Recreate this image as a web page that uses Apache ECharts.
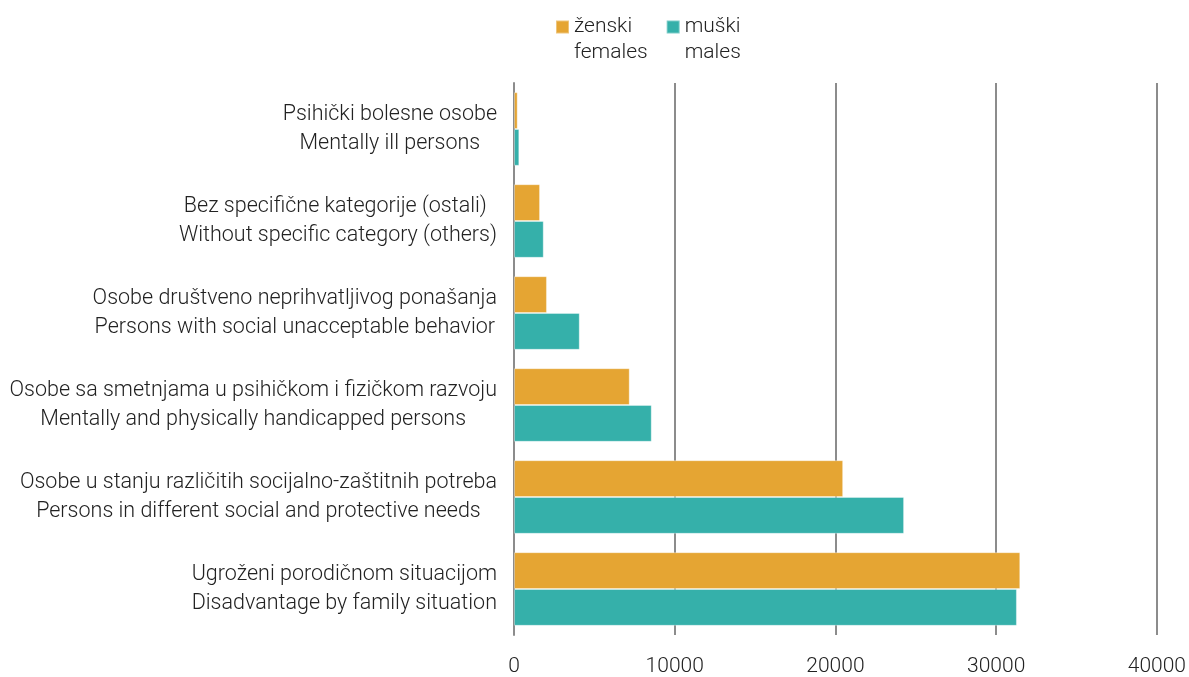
<!DOCTYPE html>
<html>
<head>
<meta charset="utf-8">
<script src="https://cdn.jsdelivr.net/npm/echarts@6/dist/echarts.min.js"></script>
<style>
  html, body { margin: 0; padding: 0; background: #fff; }
  #chart { width: 1189px; height: 677px; }
</style>
</head>
<body>
<div id="chart"></div>
<script>
// kategorije, odozgo nadole
const categories = [
  ["Psihički bolesne osobe", "Mentally ill persons"],
  ["Bez specifične kategorije (ostali) ", "Without specific category (others)"],
  ["Osobe društveno neprihvatljivog ponašanja", "Persons with social unacceptable behavior"],
  ["Osobe sa smetnjama u psihičkom i fizičkom razvoju", "Mentally and physically handicapped persons"],
  ["Osobe u stanju različitih socijalno-zaštitnih potreba", "Persons in different social and protective needs"],
  ["Ugroženi porodičnom situacijom", "Disadvantage by family situation"]
];
const females = [230, 1620, 2050, 7200, 20480, 31500];
const males = [330, 1850, 4090, 8570, 24270, 31290];
const seriesNames = ["ženski\nfemales", "muški\nmales"];
const xTicks = [0, 10000, 20000, 30000, 40000];

const FONT = "Roboto";
var chart = echarts.init(document.getElementById("chart"));
chart.setOption({
  animation: false,
  textStyle: { fontFamily: FONT },
  color: ["#E5A533", "#35B0AA"],
  legend: {
    left: 555,
    top: -12,
    padding: 0,
    itemWidth: 13,
    itemHeight: 13,
    itemGap: 18,
    icon: "rect",
    data: seriesNames,
    // prazan prvi red da kvadratić stoji uz prvi red teksta
    formatter: (name) => "\n" + name,
    textStyle: {
      fontFamily: FONT,
      fontWeight: 300,
      fontSize: 21,
      lineHeight: 26,
      color: "#222"
    }
  },
  grid: { left: 514, right: 32, top: 83, bottom: 41, containLabel: false },
  xAxis: {
    type: "value",
    min: xTicks[0],
    max: xTicks[xTicks.length - 1],
    interval: 10000,
    axisLine: { show: false },
    axisTick: { show: false },
    axisLabel: {
      margin: 21,
      formatter: (v) => String(v),
      fontFamily: FONT,
      fontWeight: 300,
      fontSize: 21,
      color: "#222"
    },
    splitLine: { lineStyle: { color: "#8c8c8c", width: 2 } }
  },
  yAxis: {
    type: "category",
    inverse: true,
    data: categories.map((c) => c.join("\n")),
    axisLine: { lineStyle: { color: "#8c8c8c", width: 2 } },
    axisTick: { length: 7, lineStyle: { color: "#8c8c8c", width: 2 } },
    axisLabel: {
      margin: 17,
      formatter: (v) => v.split("\n").map((s) => "{c|" + s + "}").join("\n"),
      rich: {
        c: {
          align: "center",
          fontFamily: FONT,
          fontWeight: 300,
          fontSize: 21.5,
          lineHeight: 29,
          color: "#222"
        }
      }
    }
  },
  series: [
    {
      name: seriesNames[0],
      type: "bar",
      data: females,
      barGap: "0%",
      barCategoryGap: "20%",
      itemStyle: { borderColor: "rgba(255,255,255,0.35)", borderWidth: 1 }
    },
    {
      name: seriesNames[1],
      type: "bar",
      data: males,
      barGap: "0%",
      barCategoryGap: "20%",
      itemStyle: { borderColor: "rgba(255,255,255,0.35)", borderWidth: 1 }
    }
  ]
});
</script>
</body>
</html>
